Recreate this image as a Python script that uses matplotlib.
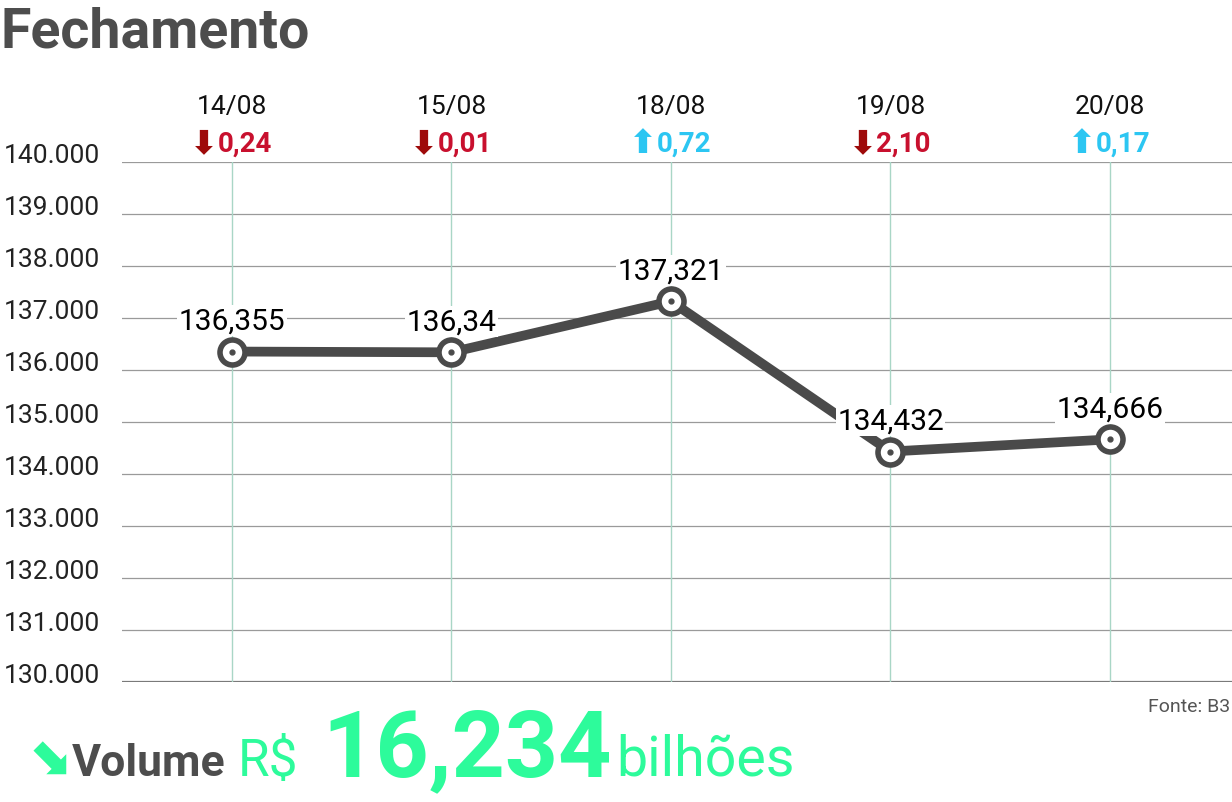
import matplotlib
matplotlib.use("Agg")
import matplotlib.pyplot as plt
import matplotlib.transforms as mtransforms

# Data
dates = ["14/08", "15/08", "18/08", "19/08", "20/08"]
closing = [136.355, 136.34, 137.321, 134.432, 134.666]
closing_labels = ["136,355", "136,34", "137,321", "134,432", "134,666"]
changes = ["0,24", "0,01", "0,72", "2,10", "0,17"]
directions = ["down", "down", "up", "down", "up"]
yticks = [130, 131, 132, 133, 134, 135, 136, 137, 138, 139, 140]
ytick_labels = ["130.000", "131.000", "132.000", "133.000", "134.000", "135.000",
                "136.000", "137.000", "138.000", "139.000", "140.000"]

DARK = "#4a4a4a"
RED_NUM = "#c8102e"
RED_ARROW = "#9e0a0a"
BLUE = "#2cc6f2"
GREEN = "#2dfb9b"
FONT = ["Roboto", "DejaVu Sans"]

fig = plt.figure(figsize=(12.32, 8.03), dpi=100)
ax = fig.add_axes([122 / 1232, 1 - 683 / 803, 1 - 122 / 1232, 520 / 803])

x = list(range(len(dates)))
ax.set_xlim(-0.501, 4.556)
ax.set_ylim(130, 140)

# grid
for v in yticks:
    if v == 130:
        ax.axhline(v, color="#7a7a7a", lw=1.6, zorder=1)
    else:
        ax.axhline(v, color="#9a9a9a", lw=0.9, zorder=1)
for xi in x:
    ax.axvline(xi, color="#a9d6c6", lw=1.0, zorder=1)

for s in ax.spines.values():
    s.set_visible(False)
ax.set_xticks([])
ax.set_yticks([])

# line + markers
ax.plot(x, closing, color=DARK, lw=7, solid_capstyle="round", zorder=3)
ax.plot(x, closing, "o", ms=18, mfc="white", mec=DARK, mew=4, zorder=4)
ax.plot(x, closing, "o", ms=3.5, color=DARK, zorder=5)

# value labels
for xi, yv, lab in zip(x, closing, closing_labels):
    ax.annotate(lab, (xi, yv), xytext=(0, 12), textcoords="offset points",
                ha="center", va="bottom", fontsize=21.5, family=FONT,
                color="black", zorder=6,
                bbox=dict(boxstyle="square,pad=0.05", fc="white", ec="none"))

# y tick labels
ytrans = mtransforms.blended_transform_factory(fig.transFigure, ax.transData)
for v, lab in zip(yticks, ytick_labels):
    ax.text(4 / 1232, v, lab, transform=ytrans, ha="left", va="baseline",
            fontsize=19, family=FONT, color="#222222")

# date and change labels on top
xtrans = mtransforms.blended_transform_factory(ax.transData, ax.transAxes)
for xi, d, ch, dr in zip(x, dates, changes, directions):
    ax.text(xi, 1.108, d, transform=xtrans, ha="center", va="center",
            fontsize=19, family=FONT, color="#111111")
    anchor = mtransforms.offset_copy(xtrans, fig=fig, x=-14, y=0, units="dots")
    if dr == "down":
        arrow, acol, ncol = "\u2b07", RED_ARROW, RED_NUM
    else:
        arrow, acol, ncol = "\u2b06", BLUE, BLUE
    ax.text(xi, 1.037, arrow, transform=anchor, ha="right", va="center",
            fontsize=24, fontweight="bold", family=["DejaVu Sans"], color=acol)
    ax.text(xi, 1.037, ch, transform=anchor, ha="left", va="center",
            fontsize=20, fontweight="bold", family=FONT, color=ncol)

# title
fig.text(0 / 1232, 1 - 48 / 803, "Fechamento", ha="left", va="baseline",
         fontsize=40, fontweight="bold", family=FONT, color="#4d4d4d")

# source
fig.text(1 - 2 / 1232, 1 - 712 / 803, "Fonte: B3", ha="right", va="baseline",
         fontsize=14, family=FONT, color="#555555")

# volume footer
base = 1 - 776 / 803
fig.text(27 / 1232, base + 0.004, "\u2b0a", ha="left", va="baseline", fontsize=38,
         fontweight="bold", family=["DejaVu Sans"], color=GREEN)
fig.text(72 / 1232, base, "Volume", ha="left", va="baseline", fontsize=32,
         fontweight="bold", family=FONT, color="#4d4d4d")
fig.text(238 / 1232, base, "R$", ha="left", va="baseline", fontsize=37,
         family=FONT, color=GREEN)
fig.text(322 / 1232, base, "16,234", ha="left", va="baseline", fontsize=67,
         fontweight="bold", family=FONT, color=GREEN)
fig.text(616 / 1232, base, "bilhões", ha="left", va="baseline", fontsize=40,
         family=FONT, color=GREEN)

fig.savefig("out.png", dpi=100, facecolor="white")
